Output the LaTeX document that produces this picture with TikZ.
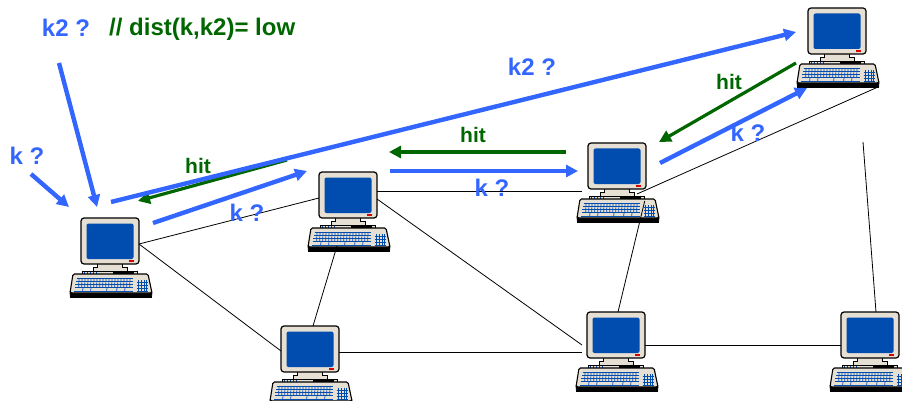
\documentclass[tikz,border=0pt]{standalone}
\usepackage{fontspec}
\setmainfont{Liberation Sans}
\usetikzlibrary{calc,arrows.meta}
\definecolor{query_blue}{HTML}{3366FF}
\definecolor{hit_green}{HTML}{006600}
\definecolor{pc_case}{HTML}{E6DFD3}
\definecolor{pc_screen}{HTML}{004CAF}
\tikzset{
    link/.style={black,line width=0.8pt},
    query/.style={-{Triangle[length=12pt,width=12pt]},query_blue,line width=4.4pt},
    hitback/.style={-{Triangle[length=12pt,width=12pt]},hit_green,line width=3.2pt},
    querylabel/.style={query_blue,font=\fontsize{24}{26}\selectfont\bfseries,inner sep=0pt},
    hitlabel/.style={hit_green,font=\fontsize{21}{24}\selectfont\bfseries,inner sep=0pt},
    keyline/.style={pc_screen,line width=0.7pt},
    computer/.pic={
      % keyboard
      \draw[black,fill=black,line width=0.8pt] (-11,74) -- (71,74) -- (70.5,79.5) -- (-10.5,79.5) -- cycle;
      % base unit and stand
      \draw[fill=pc_case,line width=0.8pt] (1,53) rectangle (56,58);
      \fill[black] (32,53.5) rectangle (53,57);
      \foreach \x in {3,6,...,16} \draw[keyline] (\x,54) -- (\x,57);
      \draw[fill=pc_case,line width=0.8pt] (16,45) -- (16,49) -- (12.5,49) -- (12.5,53) -- (46,53) -- (46,49) -- (41,49) -- (41,45) -- cycle;
      \draw[fill=pc_case,line width=1.1pt,rounded corners=1.5pt] (-8,56) -- (67,56) -- (71,75) -- (-11,75) -- cycle;
      % keys
      \foreach \y in {60.5,63.5,66.5,69.5,73} \draw[keyline] (-4-0.22*\y+13,\y) -- (52,\y);
      \foreach \x in {-2,1,...,50} \draw[keyline] (\x,60.5) -- (\x-0.3,69.5);
      \foreach \x in {2,10,26,36,44} \draw[keyline] (\x,69.5) -- (\x-0.3,73);
      \foreach \y in {64,67,70,73.5} \draw[keyline] (55.5,\y) -- (67,\y);
      \foreach \x in {57,60,63,65.5} \draw[keyline] (\x,62) -- (\x,74);
      % monitor
      \draw[fill=pc_case,line width=1.2pt,rounded corners=3pt] (0,0) rectangle (58,46);
      \fill[pc_screen,rounded corners=2pt] (5.5,5.5) rectangle (52.5,41);
      \fill[red!85!black] (48,41.8) rectangle (52.5,43.6);
    },
}
\begin{document}
\begin{tikzpicture}[x=1pt,y=-1pt]
  \useasboundingbox (0,0) rectangle (902,401);
  \coordinate (pcA) at (81,218);
  \coordinate (pcB) at (319,172);
  \coordinate (pcC) at (588,143);
  \coordinate (pcD) at (808,8);
  \coordinate (pcE) at (281,326);
  \coordinate (pcF) at (587,312);
  \coordinate (pcG) at (841,312);
  \coordinate (linkEnd) at (863,142);
  \coordinate (queryK) at (31,174);
  \coordinate (queryKtwo) at (59,63);
  \foreach \p in {pcA,pcB,pcC,pcD,pcE,pcF,pcG}
    \pic at (\p) {computer};
  \draw[link] ($(pcA)+(58,26)$) -- ($(pcB)+(0,26)$);
  \draw[link] ($(pcA)+(58,26)$) -- ($(pcE)+(0,25)$);
  \draw[link] ($(pcB)+(58,19.5)$) -- ($(pcC)+(-6,48.5)$);
  \draw[link] ($(pcB)+(58,27)$) -- ($(pcF)+(-5,33)$);
  \draw[link] ($(pcB)+(18,74)$) -- ($(pcE)+(32,0)$);
  \draw[link] ($(pcE)+(58,26)$) -- ($(pcF)+(-5,40)$);
  \draw[link] ($(pcC)+(49,51)$) -- ($(pcD)+(70,79)$);
  \draw[link] ($(pcC)+(56.7,58)$) -- ($(pcF)+(31,0)$);
  \draw[link] ($(pcF)+(58,33)$) -- ($(pcG)+(0,33)$);
  \draw[link] ($(pcG)+(35,0)$) -- (linkEnd);
  \draw[query] (queryK) -- ($(pcA)+(-12,-11)$);
  \draw[query] (queryKtwo) -- ($(pcA)+(16,-11)$);
  \draw[hitback] ($(pcB)+(-32,-12)$) -- ($(pcA)+(57,-17)$);
  \draw[query] ($(pcA)+(30,-16)$) -- ($(pcD)+(-12,24)$);
  \draw[query] ($(pcA)+(72,5)$) -- ($(pcB)+(-12,-1)$);
  \draw[query] ($(pcB)+(71,-1)$) -- ($(pcC)+(-10,28)$);
  \draw[hitback] ($(pcC)+(-22,9)$) -- ($(pcB)+(70,-20)$);
  \draw[hitback] ($(pcD)+(-12,55)$) -- ($(pcC)+(71,-1)$);
  \draw[query] ($(pcC)+(72,20)$) -- ($(pcD)+(-1,80)$);
  \node[querylabel] (askKtwo) at (66,28) {k2 ?};
  \node[hitlabel,font=\fontsize{24}{26}\selectfont\bfseries,anchor=west] (distNote) at (109,29) {// dist(k,k2)= low};
  \node[querylabel] (askK) at (27,156) {k ?};
  \node[hitlabel] (hitA) at (198,166) {hit};
  \node[querylabel] (askKb) at (247,213) {k ?};
  \node[querylabel] (askKtwob) at (532,67) {k2 ?};
  \node[hitlabel] (hitB) at (473,135) {hit};
  \node[querylabel] (askKc) at (492,188) {k ?};
  \node[hitlabel] (hitC) at (729,82) {hit};
  \node[querylabel] (askKd) at (748,133) {k ?};
\end{tikzpicture}
\end{document}
